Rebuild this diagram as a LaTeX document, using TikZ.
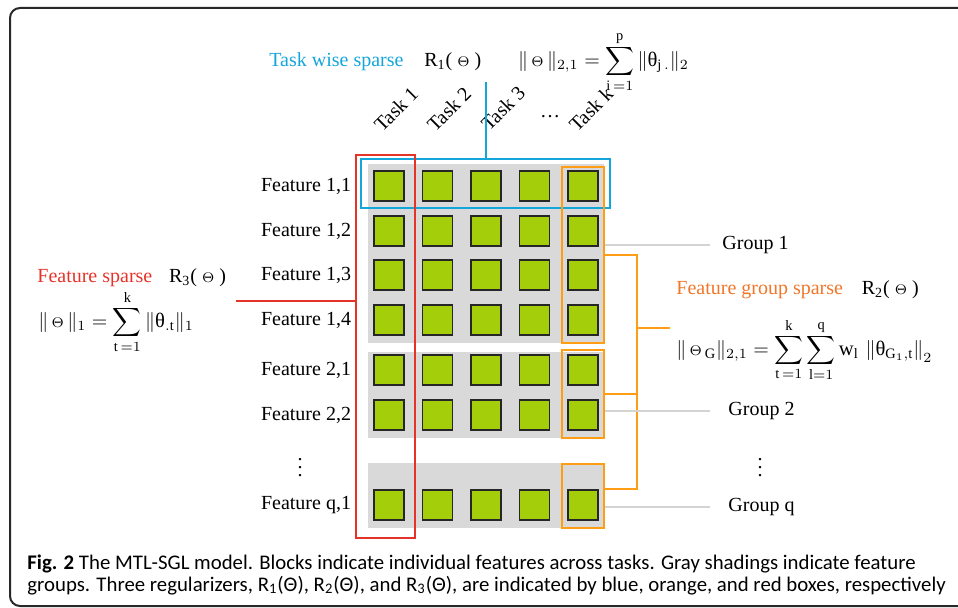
\documentclass[tikz,border=0pt]{standalone}
\usepackage{fontspec}
\usepackage{amsmath}
\usepackage{tikz}
\usetikzlibrary{positioning, calc, fit}
\setmainfont{Liberation Serif}
\newfontfamily\capfont{Carlito}
\definecolor{cellgreen}{RGB}{164,206,10}
\definecolor{shadegray}{RGB}{217,217,217}
\definecolor{linegray}{RGB}{212,212,212}
\definecolor{taskblue}{RGB}{20,165,218}
\definecolor{featred}{RGB}{228,52,42}
\definecolor{grouporange}{RGB}{255,158,20}
\definecolor{grouptext}{RGB}{240,118,40}
\definecolor{framedark}{RGB}{40,40,40}
\tikzset{
  cell/.style={rectangle, draw=black!85, fill=cellgreen,
    minimum size=15pt, inner sep=0pt, line width=0.6pt},
  shade/.style={rectangle, fill=shadegray, inner sep=0pt},
  bluebox/.style={rectangle, draw=taskblue, inner sep=0pt, line width=0.9pt},
  redbox/.style={rectangle, draw=featred, inner sep=0pt, line width=0.9pt},
  orangebox/.style={rectangle, draw=grouporange, inner sep=0pt, line width=0.9pt},
  label/.style={inner sep=1pt, font=\fontsize{10}{12}\selectfont},
  featlabel/.style={label, anchor=east},
  tasklabel/.style={label, rotate=45, anchor=base west, inner sep=0pt},
  grouplabel/.style={label, anchor=west, inner xsep=6pt},
  formula/.style={inner sep=0pt, anchor=west, font=\fontsize{10.3}{12}\selectfont},
  capline/.style={inner sep=0pt, anchor=base west, font=\capfont\fontsize{10.4}{11}\selectfont},
  blueline/.style={draw=taskblue, line width=0.9pt},
  redline/.style={draw=featred, line width=0.9pt},
  orangeline/.style={draw=grouporange, line width=0.9pt},
  grayline/.style={draw=linegray, line width=1pt}
}
\newcommand{\uth}{\mbox{θ}}
\newcommand{\smTheta}{{\scriptstyle\Theta}}

\begin{document}
\begin{tikzpicture}[x=0.5pt, y=-0.5pt]
  \useasboundingbox (0,0) rectangle (958,608);

  % Outer frame, cut by the page
  \begin{scope}
    \clip (0,0) rectangle (958,608);
    \draw[framedark, line width=1pt, rounded corners=5pt] (10,8) rectangle (1000,606);
  \end{scope}

  % Gray shadings for the feature groups
  \node[shade, fit={(368,164) (604,343)}] (g1) {};
  \node[shade, fit={(368,352) (604,438)}] (g2) {};
  \node[shade, fit={(368,463) (604,528)}] (gq) {};

  % Place feature blocks
  \foreach \r/\yy in {1/186,2/231,3/275,4/320,5/370,6/415,7/505}
    \foreach \c in {1,...,5}
      \node[cell] (sq-\r-\c) at ({389+48.5*(\c-1)},\yy) {};

  % Feature names
  \foreach \r/\name in {1/{1,1},2/{1,2},3/{1,3},4/{1,4},5/{2,1},6/{2,2},7/{q,1}}
    \node[featlabel, left=10pt of sq-\r-1] (f-\r) {Feature \name};
  \node[label] (fdots) at (300,462) {$\vdots$};

  % Task names
  \node[tasklabel] (t1) at (382,133) {Task 1};
  \node[tasklabel] (t2) at (435,133) {Task 2};
  \node[tasklabel] (t3) at (489,132) {Task 3};
  \node[label] (tdots) at (550,117) {\dots};
  \node[tasklabel] (tk) at (577,133) {Task k};

  % Regularizer boxes
  \node[bluebox, fit={(361,159) (610,208)}] (tw) {};
  \node[redbox, fit={(356,155) (415,538)}] (fs) {};
  \node[orangebox, fit={(562,167) (604,343)}] (og1) {};
  \node[orangebox, fit={(562,350) (604,438)}] (og2) {};
  \node[orangebox, fit={(562,464) (604,528)}] (ogq) {};

  % Task wise sparse
  \node[label, anchor=west, text=taskblue] (twlab) at (267,62) {Task wise sparse};
  \node[label, right=8pt of twlab] (r1) {R\textsubscript{1}( $\smTheta$ )};
  \node[formula, right=17pt of r1] (sum1)
    {$\|\,\smTheta\,\|_{2,1} = \displaystyle\sum_{\mathrm{i}\,=1}^{\mathrm{p}}\|\uth_{\mathrm{j}\,.}\|_2$};
  \coordinate (twtop) at (486,82);
  \draw[blueline] (tw.north -| twtop) -- (twtop);

  % Feature sparse
  \node[label, anchor=west, text=featred] (fslab) at (35,278) {Feature sparse};
  \node[label, right=6pt of fslab] (r3) {R\textsubscript{3}( $\smTheta$ )};
  \node[formula] (sum3) at (38,322)
    {$\|\,\smTheta\,\|_1 = \displaystyle\sum_{\mathrm{t}\,=1}^{\mathrm{k}}\|\uth_{.\mathrm{t}}\|_1$};
  \coordinate (fsend) at (236,301);
  \draw[redline] (fsend) -- (fsend -| fs.west);

  % Feature group sparse
  \node[label, anchor=west, text=grouptext] (fglab) at (674,290) {Feature group sparse};
  \node[label, right=7pt of fglab] (r2) {R\textsubscript{2}( $\smTheta$ )};
  \node[formula] (sum2) at (676,350)
    {$\|\,\smTheta_{\,\mathrm{G}}\|_{2,1} = \displaystyle\sum_{\mathrm{t}\,=1}^{\mathrm{k}}\sum_{\mathrm{l}=1}^{\mathrm{q}}\mathrm{w}_{\mathrm{l}}\,\left\|\uth_{\mathrm{G}_1,\mathrm{t}}\right\|_2$};
  \coordinate (bk) at (637,328);
  \coordinate (bkend) at (670,328);
  \draw[orangeline] (og1.east) -| (bk) |- ([yshift=3.5pt]ogq.east);
  \draw[orangeline] (og2.east) -- (og2.east -| bk);
  \draw[orangeline] (bk) -- (bkend);

  % Group names
  \node[grouplabel] (grp1) at (710,245) {Group 1};
  \node[grouplabel] (grp2) at (716,411) {Group 2};
  \node[grouplabel] (grpq) at (716,507) {Group q};
  \node[label] (gdots) at (760,462) {$\vdots$};
  \draw[grayline] (grp1.west -| og1.east) -- (grp1.west);
  \draw[grayline] (grp2.west -| og2.east) -- ([xshift=-3pt]grp2.west);
  \draw[grayline] (grpq.west -| ogq.east) -- ([xshift=-3pt]grpq.west);

  % Caption
  \node[capline] (cap1) at (27,569) {\textbf{Fig. 2} The MTL-SGL model. Blocks indicate individual features across tasks. Gray shadings indicate feature};
  \node[capline] (cap2) at (27,591) {groups. Three regularizers, R\textsubscript{1}(Θ), R\textsubscript{2}(Θ), and R\textsubscript{3}(Θ), are indicated by blue, orange, and red boxes, respectively};
\end{tikzpicture}
\end{document}
